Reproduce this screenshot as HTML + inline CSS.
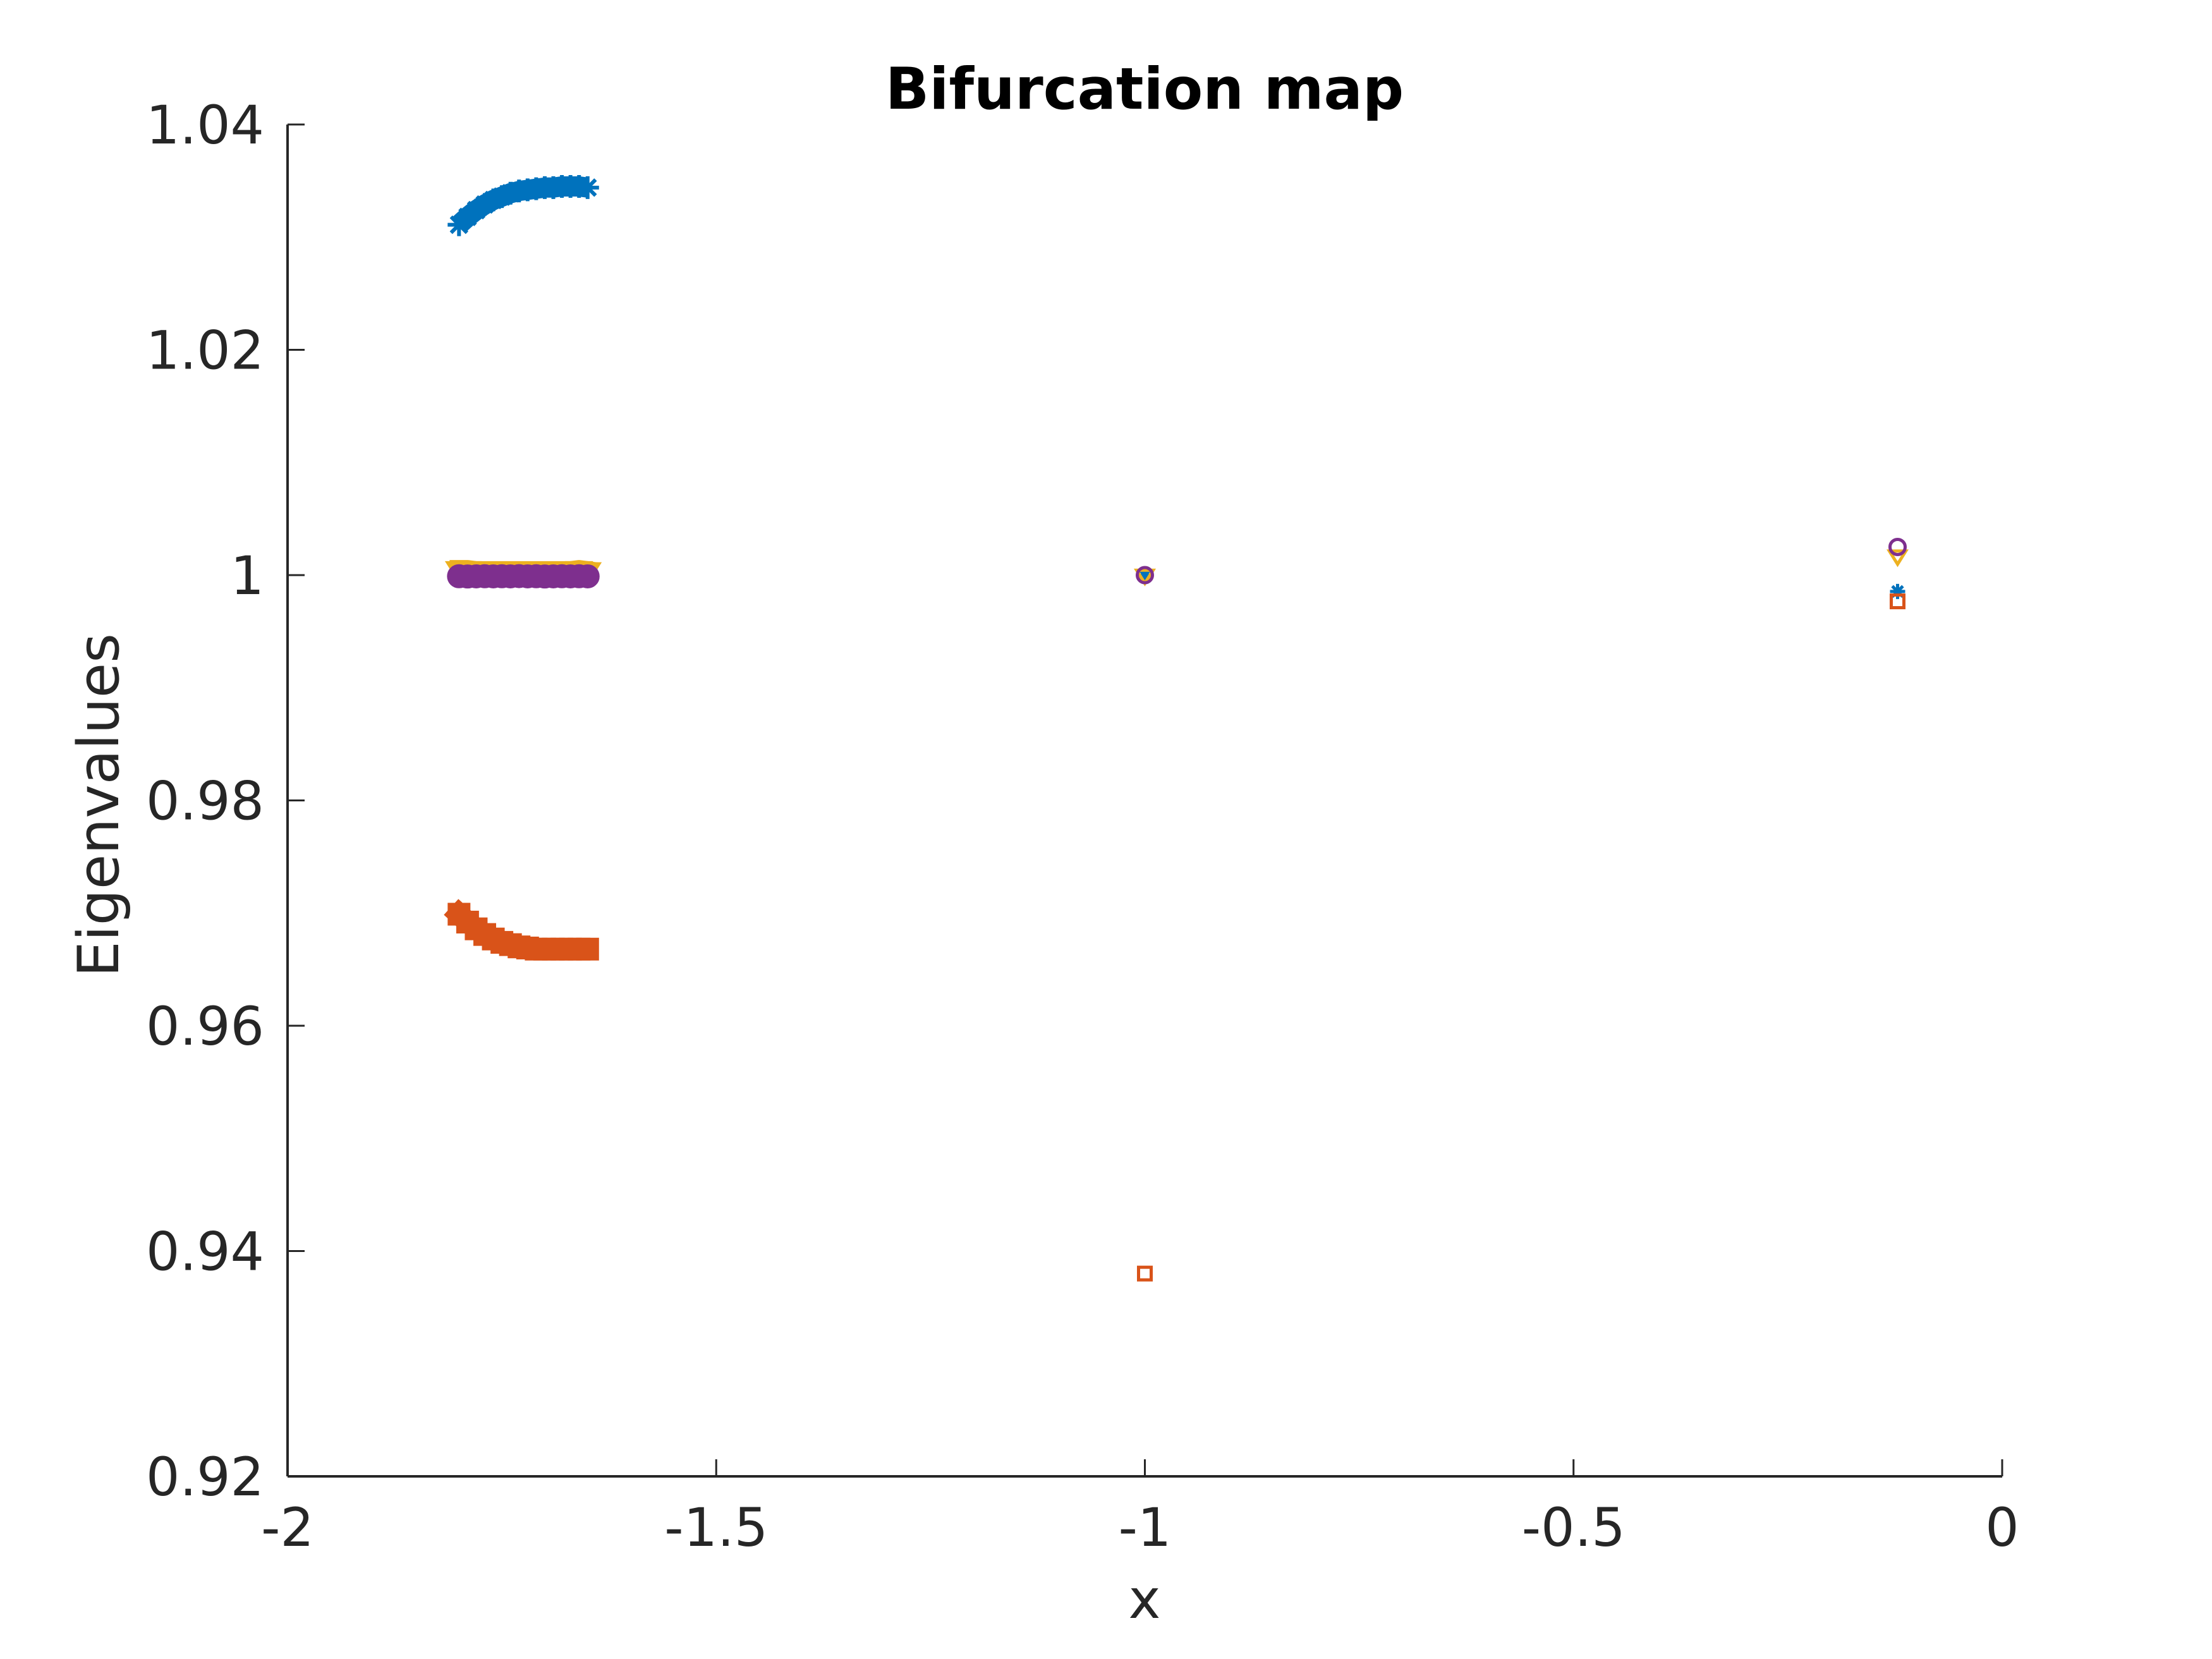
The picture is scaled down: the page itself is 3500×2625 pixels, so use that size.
<!DOCTYPE html>
<html><head><meta charset="utf-8"><style>
html,body{margin:0;padding:0;background:#fff;}
svg{display:block;font-family:"DejaVu Sans","Liberation Sans",sans-serif;}
</style></head><body>
<svg id="chart" width="3500" height="2625" viewBox="0 0 3500 2625" xmlns="http://www.w3.org/2000/svg">
<rect width="3500" height="2625" fill="#fff"/>
<g id="marks"></g>
<g id="axes"></g>
<text x="1811" y="172" font-size="91" font-weight="bold" text-anchor="middle" fill="#000">Bifurcation map</text>
<text x="1811" y="2560" font-size="86" text-anchor="middle" fill="#262626">x</text>
<text x="0" y="0" font-size="90" text-anchor="middle" fill="#262626" transform="translate(187,1274) rotate(-90)">Eigenvalues</text>
</svg>
<script>
const xTicks = [-2, -1.5, -1, -0.5, 0];
const xTickLabels = ["-2", "-1.5", "-1", "-0.5", "0"];
const yTicks = [0.92, 0.94, 0.96, 0.98, 1.00, 1.02, 1.04];
const yTickLabels = ["0.92", "0.94", "0.96", "0.98", "1", "1.02", "1.04"];

const branchX = [-1.80,-1.79,-1.78,-1.77,-1.76,-1.75,-1.74,-1.73,-1.72,-1.71,-1.70,-1.69,-1.68,-1.67,-1.66,-1.65];
const blueY = [1.0311,1.0318,1.0324,1.0329,1.0333,1.0336,1.0339,1.0341,1.0342,1.0343,1.0344,1.0344,1.0345,1.0345,1.0345,1.0344];
const orangeY = [0.9699,0.9692,0.9686,0.9681,0.9677,0.9674,0.9672,0.9670,0.9669,0.9668,0.9668,0.9668,0.9668,0.9668,0.9668,0.9668];
const yellowY = [1.0005,1.0005,1.0004,1.0004,1.0004,1.0004,1.0004,1.0004,1.0004,1.0004,1.0004,1.0004,1.0004,1.0004,1.0005,1.0004];
const purpleY = [0.99990,0.99988,0.99989,0.99990,0.99989,0.99990,0.99989,0.99991,0.99989,0.99990,0.99988,0.99989,0.99990,0.99989,0.99990,0.99989];

const isoX = [-1.0, -0.122];
const isoBlue = [1.0000, 0.99855];
const isoOrange = [0.9380, 0.99767];
const isoYellow = [1.0000, 1.0017];
const isoPurple = [1.0000, 1.0025];

const L=455, R=3168, T=197, B=2336;
const xs = v => L + (v - (-2)) / 2 * (R - L);
const ys = v => B - (v - 0.92) / 0.12 * (B - T);
const NS = "http://www.w3.org/2000/svg";
const marks = document.getElementById('marks');
const axes = document.getElementById('axes');
function mk(tag, attrs, parent){const e=document.createElementNS(NS,tag);for(const k in attrs)e.setAttribute(k,attrs[k]);parent.appendChild(e);return e;}

const C = {blue:"#0072BD", orange:"#D95319", yellow:"#EDB120", purple:"#7E2F8E"};

function band(vals, color, w, cap, name){
  const d = branchX.map((x,i)=>(i?"L":"M")+xs(x).toFixed(1)+","+ys(vals[i]).toFixed(1)).join(" ");
  const p = mk('path',{d:d,fill:"none",stroke:color,"stroke-width":w,"stroke-linejoin":"round","stroke-linecap":cap},marks);
  
  
}
function star(x,y,s,color,sw){
  const g = mk('g',{stroke:color,"stroke-width":sw},marks);
  
  
  mk('line',{x1:x-s,y1:y,x2:x+s,y2:y},g);
  mk('line',{x1:x,y1:y-s,x2:x,y2:y+s},g);
  mk('line',{x1:x-s*0.7,y1:y-s*0.7,x2:x+s*0.7,y2:y+s*0.7},g);
  mk('line',{x1:x-s*0.7,y1:y+s*0.7,x2:x+s*0.7,y2:y-s*0.7},g);
}
function square(x,y,s,color,sw){
  const r = mk('rect',{x:x-s,y:y-s,width:2*s,height:2*s,fill:"none",stroke:color,"stroke-width":sw},marks);
  
  
}
function tri(x,y,s,color,sw){
  const p = mk('path',{d:`M${x-s},${y-s*0.6} L${x+s},${y-s*0.6} L${x},${y+s} Z`,fill:"none",stroke:color,"stroke-width":sw,"stroke-linejoin":"miter"},marks);
  
  
}
function circ(x,y,r,color,sw){
  const c = mk('circle',{cx:x,cy:y,r:r,fill:"none",stroke:color,"stroke-width":sw},marks);
  
  
}

// left branches
branchX.forEach((x,i)=>star(xs(x),ys(blueY[i]),18,C.blue,6));
band(blueY, C.blue, 32, 'butt', 'blue-branch');
branchX.forEach((x,i)=>square(xs(x),ys(orangeY[i]),15,C.orange,6));
band(orangeY, C.orange, 34, 'square', 'orange-branch');
branchX.forEach((x,i)=>tri(xs(x),ys(yellowY[i]),17,C.yellow,6));
band(yellowY, C.yellow, 30, 'square', 'yellow-branch');
branchX.forEach((x,i)=>circ(xs(x),ys(purpleY[i]),16,C.purple,6));
band(purpleY, C.purple, 32, 'round', 'purple-branch');

// isolated points
isoX.forEach((x,i)=>{
  star(xs(x),ys(isoBlue[i]),12,C.blue,5);
  square(xs(x),ys(isoOrange[i]),10,C.orange,5);
  tri(xs(x),ys(isoYellow[i]),13,C.yellow,5);
  circ(xs(x),ys(isoPurple[i]),12,C.purple,5);
});

// axes
const axc = "#262626";
const xl = mk('line',{x1:L,y1:B,x2:R,y2:B,stroke:axc,"stroke-width":4},axes);


const yl = mk('line',{x1:L,y1:T,x2:L,y2:B,stroke:axc,"stroke-width":4},axes);


xTicks.forEach((v,i)=>{
  const x = xs(v);
  const t = mk('line',{x1:x,y1:B,x2:x,y2:B-27,stroke:axc,"stroke-width":3},axes);
  
  
  const tx = mk('text',{x:x,y:2446,"font-size":84,"text-anchor":"middle",fill:axc},axes);
  tx.textContent = xTickLabels[i];
  
  
});
yTicks.forEach((v,i)=>{
  const y = ys(v);
  const t = mk('line',{x1:L,y1:y,x2:L+27,y2:y,stroke:axc,"stroke-width":3},axes);
  
  
  const tx = mk('text',{x:418,y:y+30,"font-size":84,"text-anchor":"end",fill:axc},axes);
  tx.textContent = yTickLabels[i];
  
  
});
</script>
</body></html>
